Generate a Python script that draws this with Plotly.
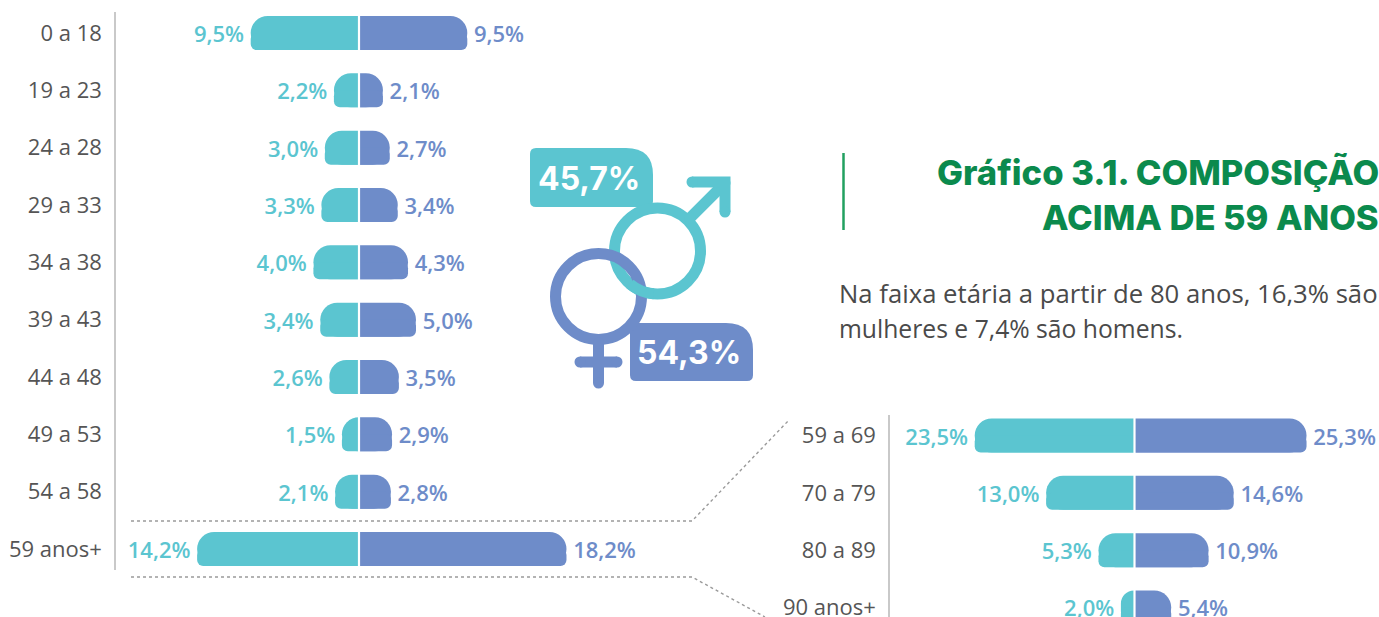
import plotly.graph_objects as go

# ---------- data ----------
ages_all = ["0 a 18", "19 a 23", "24 a 28", "29 a 33", "34 a 38", "39 a 43", "44 a 48", "49 a 53", "54 a 58", "59 anos+"]
homens_all = [9.5, 2.2, 3.0, 3.3, 4.0, 3.4, 2.6, 1.5, 2.1, 14.2]
mulheres_all = [9.5, 2.1, 2.7, 3.4, 4.3, 5.0, 3.5, 2.9, 2.8, 18.2]

ages_old = ["59 a 69", "70 a 79", "80 a 89", "90 anos+"]
homens_old = [23.5, 13.0, 5.3, 2.0]
mulheres_old = [25.3, 14.6, 10.9, 5.4]

total_homens = "45,7%"
total_mulheres = "54,3%"
title_lines = ["Gráfico 3.1. COMPOSIÇÃO", "ACIMA DE 59 ANOS"]
body_lines = ["Na faixa etária a partir de 80 anos, 16,3% são", "mulheres e 7,4% são homens."]

# ---------- style ----------
W, H = 1379, 617
TEAL, BLUE = "#5bc5d0", "#6e8cc9"
LABEL_FONT = "Open Sans"
GREY = "#555555"
ROW = 57.33
BAR_H = 34 / ROW


def fmt(v):
    return f"{v:.1f}%".replace(".", ",")


def add_pyramid(fig, cats, men, women, xa, ya, size=22):
    for vals, color, sign in ((men, TEAL, -1), (women, BLUE, 1)):
        xs = [sign * v for v in vals]
        fig.add_bar(
            y=cats, x=xs, orientation="h", width=BAR_H, xaxis=xa, yaxis=ya,
            marker=dict(color=color, cornerradius=17, line_width=0),
            text=["\u2009" + fmt(v) + "\u2009" for v in vals], textposition="outside", textangle=0,
            textfont=dict(family=LABEL_FONT, size=size, color=color, weight=600),
            cliponaxis=False, showlegend=False,
        )
        # lower half carries the tighter bottom corner
        fig.add_bar(
            y=cats, x=xs, orientation="h", width=BAR_H / 2, offset=0, xaxis=xa, yaxis=ya,
            marker=dict(color=color, cornerradius=6, line_width=0),
            showlegend=False,
        )


fig = go.Figure()
add_pyramid(fig, ages_all, homens_all, mulheres_all, "x", "y")
add_pyramid(fig, ages_old, homens_old, mulheres_old, "x2", "y2")


def xdom(a, b):
    return [a / W, b / W]


def ydom(top, bottom):
    return [1 - bottom / H, 1 - top / H]


AXF = dict(family=LABEL_FONT, size=22, color=GREY)
c1, s1 = 359.0, 11.4
c2, s2 = 1134.5, 6.8
xc = dict(visible=False, showgrid=False, zeroline=False, fixedrange=True)
yc = dict(type="category", showgrid=False, zeroline=False, showline=True, linecolor="#c9c9c9", linewidth=1.5,
          ticks="", ticklabelstandoff=8, tickfont=AXF, fixedrange=True)

fig.update_layout(
    width=W, height=H, margin=dict(l=0, r=0, t=0, b=0, autoexpand=False), barmode="overlay",
    paper_bgcolor="white", plot_bgcolor="rgba(0,0,0,0)", showlegend=False,
    xaxis=dict(domain=xdom(116, 700), range=[(116 - c1) / s1, (700 - c1) / s1], anchor="y", **xc),
    yaxis=dict(domain=ydom(12, 570), range=[(570 - 33) / ROW, (12 - 33) / ROW], anchor="x", **yc),
    xaxis2=dict(domain=xdom(890, 1379), range=[(890 - c2) / s2, (1379 - c2) / s2], anchor="y2", **xc),
    yaxis2=dict(domain=ydom(415, 617), range=[(617 - 435.5) / ROW, (415 - 435.5) / ROW], anchor="x2", **yc),
    # full-page pixel frame for the decorations
    xaxis3=dict(domain=[0, 1], range=[0, W], visible=False, anchor="y3", fixedrange=True),
    yaxis3=dict(domain=[0, 1], range=[H, 0], visible=False, anchor="x3", fixedrange=True),
)
fig.add_trace(go.Scatter(x=[0], y=[0], xaxis="x3", yaxis="y3", mode="markers", marker=dict(opacity=0), showlegend=False, hoverinfo="skip"))

shapes = []
# white centre separators
shapes.append(dict(type="line", xref="x", yref="y domain", x0=0, x1=0, y0=0, y1=1, line=dict(color="white", width=2.2), layer="above"))
shapes.append(dict(type="line", xref="x2", yref="y2 domain", x0=0, x1=0, y0=0, y1=1, line=dict(color="white", width=2.2), layer="above"))


def px_shape(**kw):
    kw.setdefault("layer", "above")
    shapes.append(dict(xref="x3", yref="y3", **kw))


def ring(cx, cy, r, color, sw=11):
    px_shape(type="circle", x0=cx - r, x1=cx + r, y0=cy - r, y1=cy + r, line=dict(color=color, width=sw))


def stroke(points, color, sw=11):
    d = "M " + " L ".join(f"{x},{y}" for x, y in points)
    px_shape(type="path", path=d, line=dict(color=color, width=sw))
    for x, y in (points[0], points[-1]):
        px_shape(type="circle", x0=x - sw / 2, x1=x + sw / 2, y0=y - sw / 2, y1=y + sw / 2, fillcolor=color, line_width=0)


def callout(x0, y0, x1, y1, color, big=27, small=6):
    d = (f"M {x0 + small},{y0} L {x1 - big},{y0} Q {x1},{y0} {x1},{y0 + big} "
         f"L {x1},{y1 - small} Q {x1},{y1} {x1 - small},{y1} L {x0 + small},{y1} "
         f"Q {x0},{y1} {x0},{y1 - small} L {x0},{y0 + small} Q {x0},{y0} {x0 + small},{y0} Z")
    px_shape(type="path", path=d, fillcolor=color, line_width=0)


# dotted connectors
DOT = dict(color="#9a9a9a", width=1.4, dash="dot")
px_shape(type="path", path="M 131,521 L 692,521 L 789,420", line=DOT)
px_shape(type="path", path="M 131,577 L 692,577 L 765,617", line=DOT)

# green rule
px_shape(type="line", x0=843.5, x1=843.5, y0=153, y1=230, line=dict(color="#22a060", width=2.5))

# gender symbols
callout(530, 148, 653, 207, TEAL)
ring(657.5, 251, 43, TEAL)
stroke([(690, 218), (725, 183)], TEAL)
stroke([(692, 182), (725, 182), (725, 212)], TEAL)
callout(630, 323, 753, 381, BLUE)
ring(598.5, 296.5, 43, BLUE)
stroke([(598.5, 343), (598.5, 383)], BLUE)
stroke([(580, 362), (617, 362)], BLUE)
# teal passes over blue at the lower crossing
px_shape(type="path", path="M 653.8,293.8 Q 640.2,292.7 629.9,283.9", line=dict(color=TEAL, width=11))
fig.update_layout(shapes=shapes)

anns = []


def note(x, y, text, size, color, family, anchor="left", weight=None, xshift=0):
    f = dict(size=size, color=color, family=family)
    if weight:
        f["weight"] = weight
    anns.append(dict(xref="x3", yref="y3", x=x, y=y, text=text, showarrow=False, xanchor=anchor, yanchor="middle", font=f, align=anchor, xshift=xshift))


note(589, 178, total_homens, 32, "white", "Inter", "center", 700)
note(689, 352, total_mulheres, 32, "white", "Inter", "center", 700)
note(1379, 172, title_lines[0], 34.6, "#0b8a4d", "Inter", "right", 800, xshift=2)
note(1379, 217, title_lines[1], 34.6, "#0b8a4d", "Inter", "right", 800, xshift=2)
note(837, 293, body_lines[0], 25.7, "#4a4a4a", "Open Sans")
note(837, 328, body_lines[1], 24.7, "#4a4a4a", "Open Sans")
fig.update_layout(annotations=anns)

fig.write_html("out.html", config=dict(displayModeBar=False, responsive=False),
               post_script="document.body.style.margin='0';document.body.style.overflow='hidden';")
